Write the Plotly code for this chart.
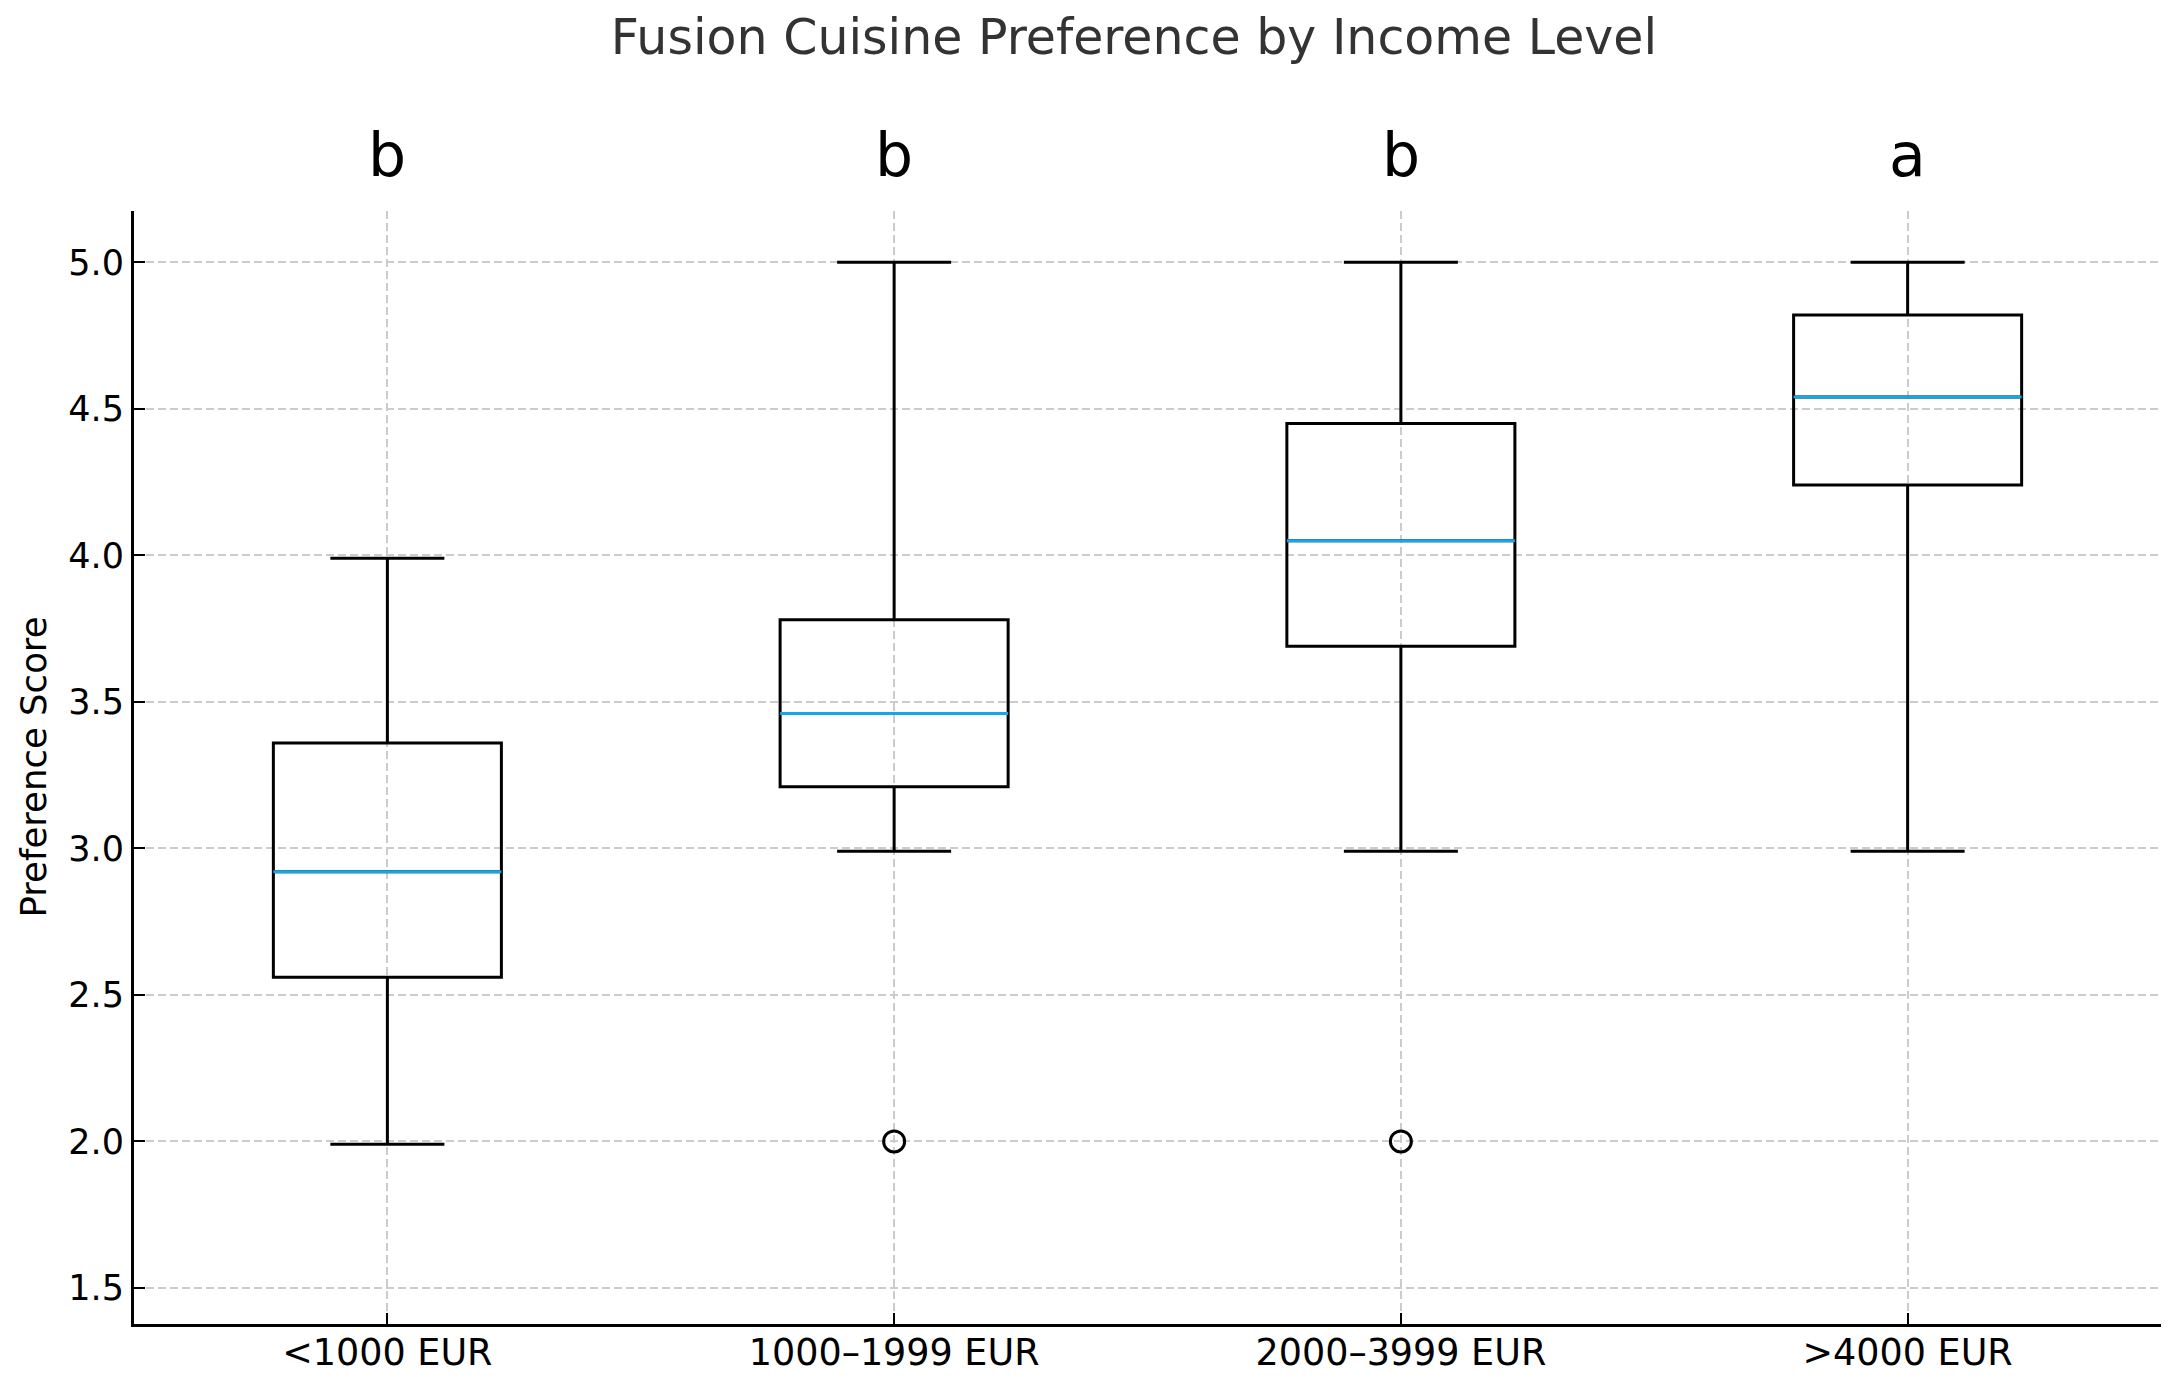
import plotly.graph_objects as go

# ---- data ----
categories = ["<1000 EUR", "1000–1999 EUR", "2000–3999 EUR", ">4000 EUR"]
positions = [1, 2, 3, 4]
q1 = [2.56, 3.21, 3.69, 4.24]
median = [2.92, 3.46, 4.05, 4.54]
q3 = [3.36, 3.78, 4.45, 4.82]
lower_whisker = [1.99, 2.99, 2.99, 2.99]
upper_whisker = [3.99, 5.0, 5.0, 5.0]
outlier_pos = [2, 3]
outlier_val = [2.0, 2.0]
letters = ["b", "b", "b", "a"]
letter_level = 5.365
y_ticks = [1.5, 2.0, 2.5, 3.0, 3.5, 4.0, 4.5, 5.0]

Y_RANGE = [1.377, 5.175]
BOX_W = 0.45
FONT = "DejaVu Sans"
LW = 3

fig = go.Figure()

for p, a, m, b, lo, hi in zip(positions, q1, median, q3, lower_whisker, upper_whisker):
    fig.add_trace(go.Box(
        x=[p], q1=[a], median=[m], q3=[b], lowerfence=[lo], upperfence=[hi],
        width=BOX_W, whiskerwidth=0.5, boxpoints=False,
        fillcolor="rgba(0,0,0,0)", line=dict(color="black", width=LW),
        showlegend=False, hoverinfo="skip",
    ))

# median lines in blue
mx, my = [], []
for p, m in zip(positions, median):
    mx += [p - BOX_W / 2, p + BOX_W / 2, None]
    my += [m, m, None]
fig.add_trace(go.Scatter(x=mx, y=my, mode="lines",
                         line=dict(color="#14a8e8", width=LW),
                         showlegend=False, hoverinfo="skip"))

# outliers
fig.add_trace(go.Scatter(x=outlier_pos, y=outlier_val, mode="markers",
                         marker=dict(symbol="circle-open", size=21,
                                     color="black", line=dict(width=LW, color="black")),
                         showlegend=False, hoverinfo="skip"))

# significance letters (placed above the plot area, converted to paper coords)
letter_paper_y = (letter_level - Y_RANGE[0]) / (Y_RANGE[1] - Y_RANGE[0])
for p, L in zip(positions, letters):
    fig.add_annotation(x=p, y=letter_paper_y, xref="x", yref="paper", text=L,
                       showarrow=False,
                       font=dict(family=FONT, size=60, color="black"),
                       xanchor="center", yanchor="middle")

# y-axis label
fig.add_annotation(x=0, y=0.5, xref="paper", yref="paper", text="Preference Score",
                   showarrow=False, textangle=-90, xanchor="center", yanchor="middle",
                   xshift=-101, font=dict(family=FONT, size=35.5, color="black"))

fig.update_layout(
    width=2177, height=1386,
    paper_bgcolor="white", plot_bgcolor="white",
    margin=dict(l=134, r=16, t=211, b=62),
    title=dict(text="Fusion Cuisine Preference by Income Level",
               x=1134 / 2177, xref="container", y=1 - 37 / 1386, yref="container",
               xanchor="center", yanchor="middle",
               font=dict(family=FONT, size=49, color="#333333")),
    font=dict(family=FONT, color="black"),
)

fig.update_xaxes(
    range=[0.5, 4.5], tickmode="array", tickvals=positions, ticktext=categories,
    showgrid=True, gridcolor="#cccccc", gridwidth=1.6, griddash="8px,4px",
    zeroline=False, showline=True, linecolor="black", linewidth=LW,
    ticks="inside", ticklen=11, tickwidth=2, tickcolor="black",
    tickfont=dict(family=FONT, size=36.5, color="black"), automargin=False,
    ticklabelstandoff=-6,
)
fig.update_yaxes(
    range=Y_RANGE, tickmode="array", tickvals=y_ticks,
    ticktext=[f"{v:.1f}" for v in y_ticks],
    showgrid=True, gridcolor="#cccccc", gridwidth=1.6, griddash="8px,4px",
    zeroline=False, showline=True, linecolor="black", linewidth=LW,
    ticks="inside", ticklen=11, tickwidth=2, tickcolor="black",
    tickfont=dict(family=FONT, size=35, color="black"), automargin=False,
)

fig.write_html("out.html", config={"displayModeBar": False},
               post_script="document.body.style.margin='0';"
                           "document.body.style.overflow='hidden';")
